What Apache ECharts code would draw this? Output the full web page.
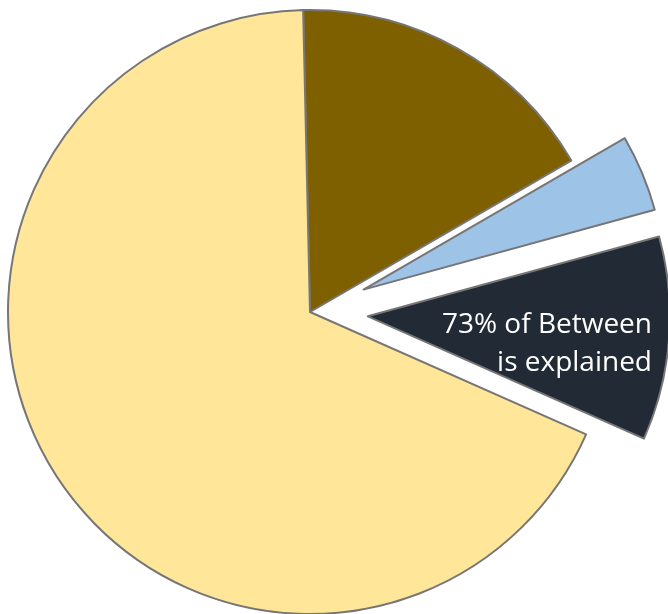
<!DOCTYPE html>
<html>
<head>
<meta charset="utf-8">
<script src="https://cdn.jsdelivr.net/npm/echarts@6/dist/echarts.min.js"></script>
<style>
  html, body { margin: 0; padding: 0; background: #fff; }
  #chart { width: 668px; height: 614px; }
</style>
</head>
<body>
<div id="chart"></div>
<script>
// slices in clockwise order from the top
const names = ["Within", "Between (unexplained)", "Between (explained)", "Residual"];
const values = [17, 4.1, 10.9, 68];
const colors = ["#7f6000", "#9dc3e6", "#222a35", "#ffe699"];
const exploded = [false, true, true, false];
const labelText = "73% of Between\nis explained";

const chart = echarts.init(document.getElementById("chart"));

chart.setOption({
  animation: false,
  series: [
    {
      type: "pie",
      center: [310, 312],
      radius: 302,
      startAngle: 91.3,
      clockwise: true,
      selectedMode: "multiple",
      selectedOffset: 58,
      label: { show: false },
      labelLine: { show: false },
      emphasis: { disabled: true },
      itemStyle: {
        borderColor: "#767676",
        borderWidth: 2,
      },
      data: names.map((n, i) => ({
        name: n,
        value: values[i],
        selected: exploded[i],
        itemStyle: { color: colors[i] },
        select: { itemStyle: { color: colors[i], borderColor: "#767676", borderWidth: 2 } },
      })),
    },
  ],
  graphic: [
    {
      type: "text",
      x: 652,
      y: 306,
      z: 100,
      silent: true,
      style: {
        text: labelText,
        fill: "#ffffff",
        font: "28px 'Open Sans'",
        align: "right",
        verticalAlign: "top",
        lineHeight: 38,
      },
    },
  ],
});
</script>
</body>
</html>
